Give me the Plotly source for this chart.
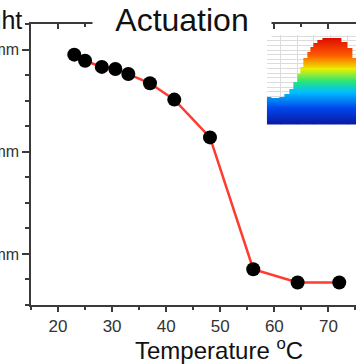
import plotly.graph_objects as go

# ---- main data ----
temperature_c = [23.0, 25.0, 28.1, 30.6, 33.0, 37.0, 41.5, 48.1, 56.1, 64.3, 72.0]
height_mm = [2.95, 2.89, 2.83, 2.81, 2.76, 2.67, 2.51, 2.14, 0.85, 0.72, 0.72]

x_ticks = [20, 30, 40, 50, 60, 70]
y_ticks = [1, 2, 3]
y_tick_labels = ["1 mm", "2 mm", "3 mm"]

title_text = "Actuation"
x_title = "Temperature <sup>o</sup>C"
y_title = "Height"

# ---- inset (side view of surface profile) ----
inset_cols = [0, 8.3, 15, 20, 25, 28.3, 31.7, 35, 38.3, 41.7, 45, 48.3, 53.3, 58.3, 65, 71.7, 78.3, 83.3, 88.3]
inset_profile = [27, 26.3, 27.7, 30.3, 35.3, 42, 50.3, 58.7, 67, 73.7, 78.7, 82, 85.3, 87, 87.7, 87, 83.7, 77, 67]
inset_levels = list(range(0, 91))

inset_z = [[lv if lv <= p else None for p in inset_profile] for lv in inset_levels]

inset_colors = [
    [0.0, "rgb(10,25,160)"],
    [0.18, "rgb(0,70,235)"],
    [0.36, "rgb(0,190,255)"],
    [0.48, "rgb(40,230,120)"],
    [0.62, "rgb(235,240,0)"],
    [0.78, "rgb(255,90,0)"],
    [1.0, "rgb(215,0,0)"],
]

FONT = "Liberation Sans, Arial, sans-serif"
AX = "#3a3a3a"

fig = go.Figure()

fig.add_trace(go.Scatter(
    x=temperature_c, y=height_mm, mode="lines+markers",
    line=dict(color="#ff3a2e", width=2.5),
    marker=dict(color="black", size=14),
    showlegend=False, hoverinfo="skip",
))

# dummy trace so top axis is drawn
fig.add_trace(go.Scatter(x=[None], y=[None], xaxis="x2", yaxis="y",
                         showlegend=False, hoverinfo="skip"))

fig.add_trace(go.Heatmap(
    x=inset_cols, y=inset_levels, z=inset_z,
    xaxis="x3", yaxis="y3", colorscale=inset_colors, zmin=0, zmax=90,
    showscale=False, hoverinfo="skip",
))

fig.update_layout(
    template="none",
    width=356, height=364,
    margin=dict(l=31, r=0, t=24, b=58.5),
    paper_bgcolor="white", plot_bgcolor="white",
    font=dict(family=FONT),
    xaxis=dict(
        range=[15, 75.1], tickvals=x_ticks, showgrid=False, zeroline=False,
        showline=True, linecolor=AX, linewidth=1.5,
        ticks="outside", ticklen=5, tickwidth=1.5, tickcolor=AX,
        minor=dict(dtick=5, tick0=0, ticks="outside", ticklen=3, tickwidth=1.5, tickcolor=AX),
        tickfont=dict(size=17, color="#333333", family=FONT),
        automargin=False,
    ),
    xaxis2=dict(
        range=[15, 75.1], overlaying="x", side="top", anchor="y",
        tickvals=x_ticks, showticklabels=False, showgrid=False, zeroline=False,
        showline=True, linecolor=AX, linewidth=1.5,
        ticks="inside", ticklen=5, tickwidth=1.5, tickcolor=AX,
        minor=dict(dtick=5, tick0=0, ticks="inside", ticklen=3, tickwidth=1.5, tickcolor=AX),
        automargin=False,
    ),
    yaxis=dict(
        range=[0.5, 3.25], tickvals=y_ticks, ticktext=y_tick_labels,
        showgrid=False, zeroline=False,
        showline=True, linecolor=AX, linewidth=1.5,
        ticks="outside", ticklen=7, tickwidth=1.5, tickcolor=AX,
        minor=dict(dtick=0.25, tick0=0, ticks="outside", ticklen=4, tickwidth=1.5, tickcolor=AX),
        tickfont=dict(size=16, color="#333333", family=FONT),
        automargin=False,
    ),
    xaxis3=dict(
        domain=[0.726, 1.0], anchor="y3", range=[-0.5, 89.5],
        showticklabels=False, ticks="", showline=False, zeroline=False,
        showgrid=True, gridcolor="#dcdcdc", gridwidth=1, dtick=17, tick0=13,
    ),
    yaxis3=dict(
        domain=[0.642, 0.961], anchor="x3", range=[-0.5, 90.5],
        showticklabels=False, ticks="", showline=False, zeroline=False,
        showgrid=True, gridcolor="#dcdcdc", gridwidth=1, dtick=4.7, tick0=0,
    ),
    annotations=[
        dict(text=title_text, xref="paper", yref="paper",
             x=(182 - 31) / 325, y=1 + 4 / 281.5, xanchor="center", yanchor="middle",
             showarrow=False, bgcolor="white", width=176, height=36,
             font=dict(size=32, color="#111111", family=FONT)),
        dict(text=y_title, xref="paper", yref="paper",
             x=(24 - 31) / 325, y=1 + 4 / 281.5, xanchor="right", yanchor="middle",
             showarrow=False, font=dict(size=25, color="#111111", family=FONT)),
        dict(text=x_title, xref="paper", yref="paper",
             x=(219 - 31) / 325, y=-(350 - 305.5) / 281.5, xanchor="center", yanchor="middle",
             showarrow=False, font=dict(size=24, color="#111111", family=FONT)),
    ],
)

fig.write_html(
    "out.html",
    config={"displayModeBar": False},
    post_script="document.body.style.margin='0';document.body.style.padding='0';",
)
